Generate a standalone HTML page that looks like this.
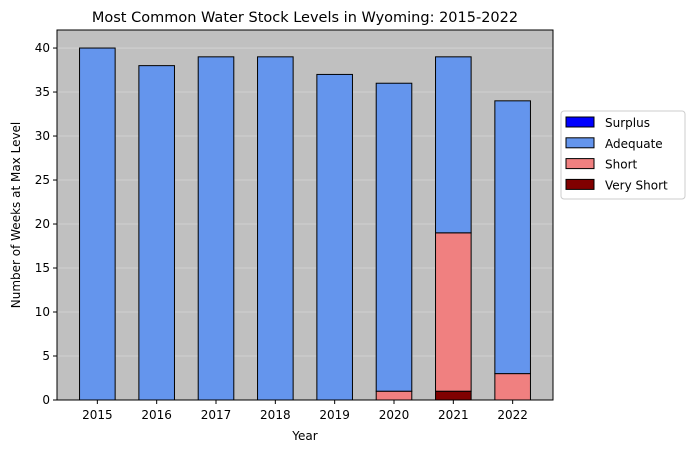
<!DOCTYPE html>
<html><head><meta charset="utf-8"><style>
body{margin:0;background:#fff;font-family:"Liberation Sans","DejaVu Sans",sans-serif;}
svg text{font-family:"DejaVu Sans","Liberation Sans",sans-serif;}
</style></head><body>
<svg id="chart" width="692" height="453" xmlns="http://www.w3.org/2000/svg"></svg>
<script>
const years=["2015","2016","2017","2018","2019","2020","2021","2022"];
const verryShortPlaceholder=null;
const veryShort=[0,0,0,0,0,0,1,0];
const shortW=[0,0,0,0,0,1,18,3];
const adequate=[40,38,39,39,37,35,20,31];
const surplus=[0,0,0,0,0,0,0,0];
const yTicks=[0,5,10,15,20,25,30,35,40];
const seriesNames=["Surplus","Adequate","Short","Very Short"];
const colors={"Surplus":"#0000ff","Adequate":"#6495ed","Short":"#f08080","Very Short":"#800000"};

const NS="http://www.w3.org/2000/svg";
const svg=document.getElementById('chart');
const L=57,R=553,T=30,B=400,ymax=42.05,xmin=-0.68,xmax=7.68,bw=0.6;
const X=v=>L+(v-xmin)/(xmax-xmin)*(R-L);
const Y=v=>B-v/ymax*(B-T);
function el(tag,attrs,txt){const e=document.createElementNS(NS,tag);for(const k in attrs)e.setAttribute(k,attrs[k]);if(txt!==undefined)e.textContent=txt;svg.appendChild(e);return e;}
let e=el('rect',{x:L,y:T,width:R-L,height:B-T,fill:'#c0c0c0'});


yTicks.forEach(t=>{
 let g=el('line',{x1:L,x2:R,y1:Y(t),y2:Y(t),stroke:'#ffffff','stroke-opacity':0.35,'stroke-width':0.8});
 
 
 el('line',{x1:L-4,x2:L,y1:Y(t),y2:Y(t),stroke:'#000'});
 let l=el('text',{x:L-7,y:Y(t)+4,'text-anchor':'end','font-size':12},String(t));
 
 
});
const stack=[["Very Short",veryShort],["Short",shortW],["Adequate",adequate],["Surplus",surplus]];
years.forEach((yr,i)=>{
 let base=0;
 stack.forEach(([n,arr])=>{
  const v=arr[i];
  if(v>0){
   let r=el('rect',{x:X(i-bw/2),y:Y(base+v),width:X(i+bw/2)-X(i-bw/2),height:Y(base)-Y(base+v),fill:colors[n],stroke:'#000','stroke-width':1});
   
   
  }
  base+=v;
 });
 el('line',{x1:X(i),x2:X(i),y1:B,y2:B+4,stroke:'#000'});
 let l=el('text',{x:X(i),y:B+19,'text-anchor':'middle','font-size':12},yr);
 
 
});
e=el('rect',{x:L,y:T,width:R-L,height:B-T,fill:'none',stroke:'#000','stroke-width':1});


e=el('text',{x:(L+R)/2,y:22,'text-anchor':'middle','font-size':14.5},'Most Common Water Stock Levels in Wyoming: 2015-2022');


e=el('text',{x:(L+R)/2,y:440,'text-anchor':'middle','font-size':12},'Year');


e=el('text',{x:20,y:(T+B)/2,'text-anchor':'middle','font-size':12,transform:'rotate(-90 20 '+((T+B)/2)+')'},'Number of Weeks at Max Level');


e=el('rect',{x:561,y:111,width:124,height:88,fill:'#fff',stroke:'#ccc',rx:3});


seriesNames.forEach((n,k)=>{
 const yy=117+k*20.8;
 let s=el('rect',{x:566,y:yy,width:28,height:10,fill:colors[n],stroke:'#000'});
 
 
 let t=el('text',{x:605,y:yy+10,'font-size':12},n);
 
 
});
</script>
</body></html>
